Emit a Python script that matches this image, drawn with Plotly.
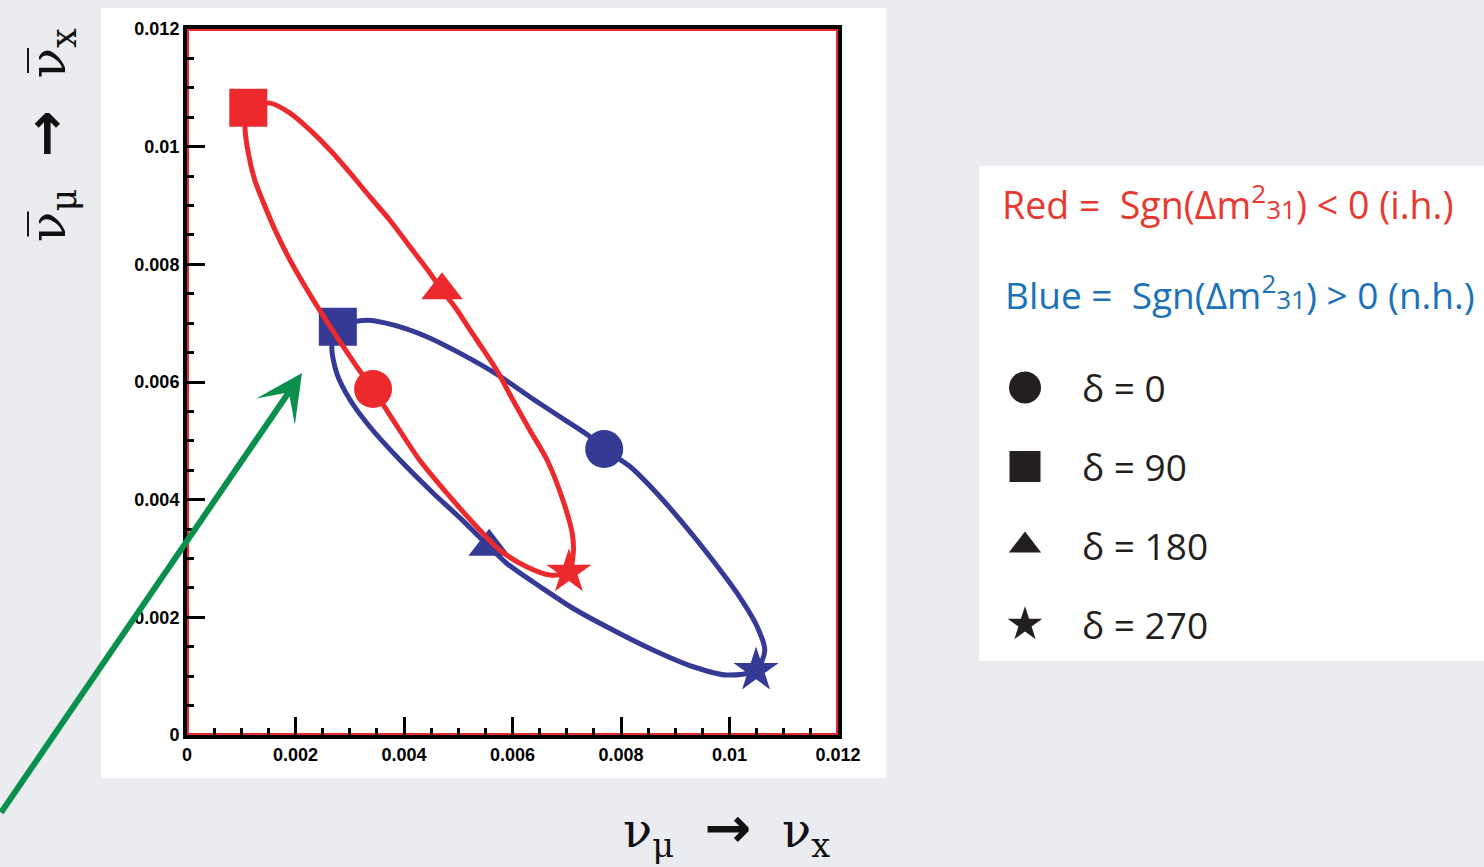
import plotly.graph_objects as go

# ---- oscillation probability ellipses, traced through delta ----
# red: inverted hierarchy, blue: normal hierarchy
red_x = [0.00343, 0.00313, 0.00276, 0.00248, 0.00218, 0.00190, 0.00165, 0.00144, 0.00125, 0.00113,
         0.00107, 0.00113, 0.00153, 0.00190, 0.00227, 0.00264, 0.00301, 0.00337, 0.00374, 0.00411,
         0.00448, 0.00470, 0.00498, 0.00522, 0.00547, 0.00571, 0.00601, 0.00632, 0.00664, 0.00693,
         0.00710, 0.00712, 0.00704, 0.00669, 0.00626, 0.00577, 0.00528, 0.00479, 0.00429, 0.00380,
         0.00343]
red_y = [0.00588, 0.00626, 0.00677, 0.00717, 0.00762, 0.00807, 0.00853, 0.00898, 0.00943, 0.00989,
         0.01034, 0.01066, 0.01074, 0.01057, 0.01028, 0.00994, 0.00955, 0.00915, 0.00875, 0.00830,
         0.00785, 0.00756, 0.00722, 0.00688, 0.00654, 0.00620, 0.00569, 0.00518, 0.00467, 0.00399,
         0.00343, 0.00309, 0.00277, 0.00272, 0.00286, 0.00314, 0.00360, 0.00411, 0.00467, 0.00535,
         0.00588]

blue_x = [0.00769, 0.00743, 0.00699, 0.00638, 0.00573, 0.00503, 0.00442, 0.00380, 0.00332, 0.00278,
          0.00267, 0.00276, 0.00301, 0.00337, 0.00393, 0.00454, 0.00509, 0.00557, 0.00589, 0.00651,
          0.00712, 0.00786, 0.00860, 0.00933, 0.00995, 0.01049, 0.01065, 0.01051, 0.01014, 0.00964,
          0.00914, 0.00866, 0.00817, 0.00769]
blue_y = [0.00486, 0.00507, 0.00534, 0.00571, 0.00612, 0.00649, 0.00677, 0.00697, 0.00705, 0.00694,
          0.00660, 0.00615, 0.00569, 0.00524, 0.00467, 0.00411, 0.00364, 0.00320, 0.00292, 0.00252,
          0.00215, 0.00178, 0.00144, 0.00116, 0.00102, 0.00110, 0.00144, 0.00184, 0.00241, 0.00303,
          0.00360, 0.00411, 0.00456, 0.00486]

# marker points at delta = 0, 90, 180, 270
delta_values = [0, 90, 180, 270]
delta_symbols = ["circle", "square", "triangle-up", "star"]
red_mark_x = [0.00343, 0.00113, 0.00470, 0.00704]
red_mark_y = [0.00588, 0.01066, 0.00756, 0.00277]
blue_mark_x = [0.00769, 0.00278, 0.00557, 0.01049]
blue_mark_y = [0.00486, 0.00694, 0.00320, 0.00110]

tick_vals = [0, 0.002, 0.004, 0.006, 0.008, 0.010, 0.012]
tick_text = ["0", "0.002", "0.004", "0.006", "0.008", "0.01", "0.012"]

RED = "#ec2a2e"
BLUE = "#353a94"
W, H = 1484, 867


def px_x(p):
    return p / W


def px_y(p):
    return (H - p) / H


mark_sizes = {"circle": 38, "square": 38, "triangle-up": 36, "star": 34}
legend_sizes = {"circle": 32, "square": 31, "triangle-up": 28, "star": 26}

fig = go.Figure()

fig.add_trace(go.Scatter(x=blue_x, y=blue_y, mode="lines",
                         line=dict(color=BLUE, width=5, shape="spline", smoothing=0.8),
                         hoverinfo="skip"))
fig.add_trace(go.Scatter(x=blue_mark_x, y=blue_mark_y, mode="markers",
                         marker=dict(color=BLUE, symbol=delta_symbols, opacity=1,
                                     size=[mark_sizes[s] for s in delta_symbols], line=dict(width=0)),
                         hoverinfo="skip"))
fig.add_trace(go.Scatter(x=red_x, y=red_y, mode="lines",
                         line=dict(color=RED, width=5, shape="spline", smoothing=0.8),
                         hoverinfo="skip"))
fig.add_trace(go.Scatter(x=red_mark_x, y=red_mark_y, mode="markers",
                         marker=dict(color=RED, symbol=delta_symbols, opacity=1,
                                     size=[mark_sizes[s] for s in delta_symbols], line=dict(width=0)),
                         hoverinfo="skip"))

# key symbols for the delta values
fig.add_trace(go.Scatter(x=[0.5] * len(delta_values), y=list(range(len(delta_values))),
                         mode="markers", xaxis="x2", yaxis="y2",
                         marker=dict(color="#231f20", symbol=delta_symbols, opacity=1,
                                     size=[legend_sizes[s] for s in delta_symbols], line=dict(width=0)),
                         hoverinfo="skip"))

tick_font = dict(family="Liberation Sans", size=18, color="black", weight="bold")
axis_common = dict(
    range=[0, 0.012], showgrid=False, zeroline=False, automargin=False,
    showline=True, linecolor="black", linewidth=4, mirror=True,
    ticks="inside", ticklen=18, tickwidth=3, tickcolor="black",
    tickvals=tick_vals, ticktext=tick_text, tickfont=tick_font,
    minor=dict(ticks="inside", ticklen=7, tickwidth=3, tickcolor="black", dtick=0.0005),
    fixedrange=True,
)

fig.update_layout(
    template="none",
    width=W, height=H, autosize=False,
    margin=dict(l=0, r=0, t=0, b=0, pad=0, autoexpand=False),
    paper_bgcolor="#eaecef",
    plot_bgcolor="rgba(0,0,0,0)",
    showlegend=False,
    xaxis=dict(domain=[px_x(187), px_x(838)], anchor="y", **axis_common),
    yaxis=dict(domain=[px_y(735), px_y(29)], anchor="x", **axis_common),
    xaxis2=dict(domain=[px_x(1000), px_x(1050)], range=[0, 1], visible=False, anchor="y2", automargin=False),
    yaxis2=dict(domain=[px_y(660), px_y(352)], range=[3.45, -0.45], visible=False, anchor="x2", automargin=False),
)

shapes = [
    # white panels behind the plot and the key
    dict(type="rect", xref="paper", yref="paper", x0=px_x(101), x1=px_x(886), y0=px_y(778), y1=px_y(8),
         fillcolor="white", line=dict(width=0), layer="below"),
    dict(type="rect", xref="paper", yref="paper", x0=px_x(979), x1=1.01, y0=px_y(661), y1=px_y(166),
         fillcolor="white", line=dict(width=0), layer="below"),
    # red inner frame
    dict(type="rect", xref="x", yref="y", x0=0, x1=0.012, y0=0, y1=0.012,
         line=dict(color=RED, width=4), fillcolor="rgba(0,0,0,0)", layer="below"),
]
fig.update_layout(shapes=shapes)

ARROW = "<span style='font-family:DejaVu Sans;font-weight:bold;font-size:56px'>→</span>"
annotations = []
# axis titles
annotations.append(dict(
    xref="paper", yref="paper", x=px_x(726), y=px_y(830), showarrow=False,
    text=f"ν<sub>μ</sub>\u00a0\u00a0{ARROW}\u00a0\u00a0ν<sub>x</sub>",
    font=dict(family="DejaVu Serif", size=48, color="#111111"), xanchor="center", yanchor="middle"))
annotations.append(dict(
    xref="paper", yref="paper", x=px_x(48), y=px_y(135), showarrow=False, textangle=-90,
    text=f"ν\u0305<sub>μ</sub>\u00a0\u00a0{ARROW}\u00a0\u00a0ν\u0305<sub>x</sub>",
    font=dict(family="DejaVu Serif", size=50, color="#111111"), xanchor="center", yanchor="middle"))

# hierarchy key
key_font = "Open Sans"
annotations.append(dict(
    xref="paper", yref="paper", x=px_x(1000), y=px_y(202), showarrow=False, xanchor="left", yanchor="middle",
    text="Red =\u00a0 Sgn(Δm<sup>2</sup><span style='font-size:26px'>31</span>) &lt; 0 (i.h.)",
    font=dict(family=key_font, size=37.5, color="#e8392f")))
annotations.append(dict(
    xref="paper", yref="paper", x=px_x(1003), y=px_y(292), showarrow=False, xanchor="left", yanchor="middle",
    text="Blue =\u00a0 Sgn(Δm<sup>2</sup><span style='font-size:26px'>31</span>) &gt; 0 (n.h.)",
    font=dict(family=key_font, size=37, color="#1b72b8")))
for i, d in enumerate(delta_values):
    annotations.append(dict(
        xref="paper", yref="y2", x=px_x(1080), y=i, showarrow=False, xanchor="left", yanchor="middle",
        text=f"δ = {d}", font=dict(family=key_font, size=37, color="#231f20")))

# green pointer arrow
annotations.append(dict(
    xref="paper", yref="paper", x=px_x(302), y=px_y(373), ax=-312, ay=441,
    showarrow=True, arrowhead=3, arrowsize=1.3, arrowwidth=6, arrowcolor="#0a8f4c", text=""))

fig.update_layout(annotations=annotations)

fig.write_html("out.html", post_script="document.body.style.margin='0';")
